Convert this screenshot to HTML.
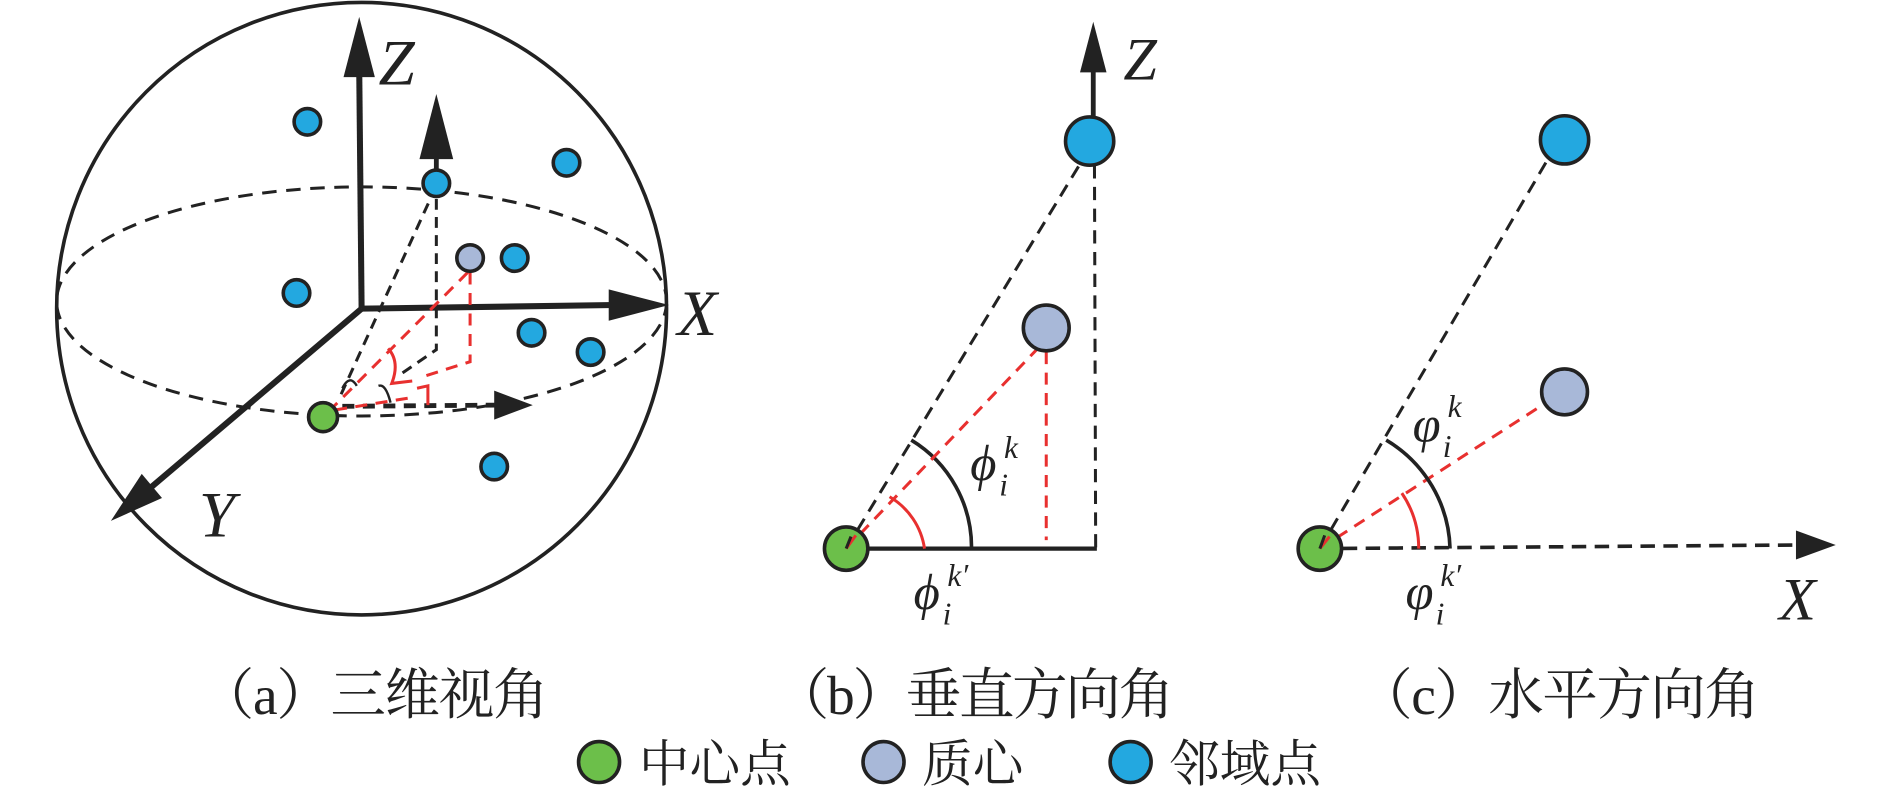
<!DOCTYPE html>
<html><head><meta charset="utf-8"><style>
html,body{margin:0;padding:0;background:#fff;width:1890px;height:803px;overflow:hidden}
svg{display:block}
.it{font-family:"Liberation Serif",serif;font-style:italic;fill:#222}
.cj{font-family:"Liberation Serif","Noto Serif CJK SC",serif;fill:#222}
</style></head><body>
<svg width="1890" height="803" viewBox="0 0 1568 666" preserveAspectRatio="none" xmlns="http://www.w3.org/2000/svg">
<g fill="none" stroke="#222">
<!-- panel a -->
<ellipse cx="300" cy="256" rx="253" ry="254" stroke-width="3"/>
<ellipse cx="300" cy="250" rx="253" ry="95" stroke-width="2.5" stroke-dasharray="12,8"/>
<line x1="300" y1="256" x2="298" y2="55" stroke-width="5"/>
<line x1="300" y1="256" x2="510" y2="253" stroke-width="5"/>
<line x1="300" y1="256" x2="122" y2="407" stroke-width="5"/>
<line x1="362" y1="150" x2="362" y2="125" stroke-width="4"/>
<line x1="283" y1="327" x2="357" y2="165" stroke-width="2.5" stroke-dasharray="9,6"/>
<polyline points="362,165 362,290 330,312" stroke-width="2.5" stroke-dasharray="9,6"/>
<line x1="284" y1="337" x2="412" y2="336" stroke-width="4" stroke-dasharray="10,7"/>
<path d="M284,322 Q290,310 296,320" stroke-width="2"/>
<path d="M314,320 Q320,318 324,334" stroke-width="2"/>
<g stroke="#e8302f" stroke-width="2.5" stroke-dasharray="10,7">
<line x1="388" y1="226" x2="272" y2="342"/>
<polyline points="390,226 390,300 352,312"/>
<line x1="278" y1="340" x2="340" y2="330"/>
</g>
<path d="M322,289 Q332,300 325,318 L342,316" stroke="#e8302f" stroke-width="2.5"/>
<path d="M346,322 L355,320 L355,336" stroke="#e8302f" stroke-width="2.5"/>
<!-- panel b -->
<line x1="907" y1="100" x2="907" y2="55" stroke-width="4"/>
<line x1="702" y1="455" x2="896" y2="136" stroke-width="2.5" stroke-dasharray="11,7"/>
<line x1="908" y1="137" x2="909" y2="455" stroke-width="2.5" stroke-dasharray="11,7"/>
<line x1="702" y1="455" x2="910" y2="455" stroke-width="3.5"/>
<path d="M756,365 A104,104 0 0 1 806,455" stroke-width="3"/>
<g stroke="#e8302f" stroke-width="2.5" stroke-dasharray="10,7">
<line x1="702" y1="455" x2="860" y2="290"/>
<line x1="868" y1="292" x2="868" y2="448"/>
</g>
<path d="M738,412 A60,60 0 0 1 767,455" stroke="#e8302f" stroke-width="2.5"/>
<!-- panel c -->
<line x1="1095" y1="455" x2="1283" y2="134" stroke-width="2.5" stroke-dasharray="11,7"/>
<line x1="1095" y1="455" x2="1492" y2="452" stroke-width="3" stroke-dasharray="12,7"/>
<line x1="1095" y1="455" x2="1278" y2="337" stroke="#e8302f" stroke-width="2.5" stroke-dasharray="10,7"/>
<path d="M1150,365 A108,108 0 0 1 1203,455" stroke-width="3"/>
<path d="M1163,409 A82,82 0 0 1 1177,455" stroke="#e8302f" stroke-width="2.5"/>
</g>
<!-- arrowheads -->
<g fill="#222">
<polygon points="298,14 285,64 311,64"/>
<polygon points="555,253 505,240 505,266"/>
<polygon points="92,432 117.6,393 134.4,413"/>
<polygon points="362,78 348,132 376,132"/>
<polygon points="442,336 410,324 410,348"/>
<polygon points="907,18 896,60 918,60"/>
<polygon points="1523,452 1490,440 1490,464"/>
</g>
<!-- dots -->
<g stroke="#222" stroke-width="3">
<g fill="#23a8e0">
<circle cx="255" cy="101" r="11"/><circle cx="470" cy="135" r="11"/><circle cx="362" cy="152" r="11"/>
<circle cx="246" cy="243" r="11"/><circle cx="427" cy="214" r="11"/><circle cx="441" cy="276" r="11"/>
<circle cx="490" cy="292" r="11"/><circle cx="410" cy="387" r="11"/>
<circle cx="904" cy="117" r="20"/><circle cx="1298" cy="116" r="20"/>
<circle cx="938" cy="632" r="17"/>
</g>
<g fill="#a8b8d8">
<circle cx="390" cy="214" r="11"/><circle cx="868" cy="272" r="19"/><circle cx="1298" cy="325" r="19"/>
<circle cx="733" cy="632" r="17"/>
</g>
<g fill="#6cbf4a">
<circle cx="268" cy="346" r="12"/><circle cx="702" cy="455" r="18"/><circle cx="1095" cy="455" r="18"/>
<circle cx="497" cy="632" r="17"/>
</g>
</g>
<g stroke="#e8302f" stroke-width="2.5"><line x1="702" y1="455" x2="710" y2="444"/><line x1="1095" y1="455" x2="1103" y2="445"/></g>
<g stroke="#222" stroke-width="2.5"><line x1="702" y1="455" x2="706" y2="445"/><line x1="1095" y1="455" x2="1099" y2="444"/></g>
<!-- labels -->
<text class="it" x="314" y="70" font-size="54">Z</text>
<text class="it" x="562" y="278" font-size="54">X</text>
<text class="it" x="165" y="445" font-size="54">Y</text>
<text class="it" x="932" y="66" font-size="50">Z</text>
<text class="it" x="1476" y="514" font-size="50">X</text>
<text class="it" x="805" y="398" font-size="42">ϕ</text><text class="it" x="829" y="411" font-size="26">i</text><text class="it" x="833" y="380" font-size="26">k</text>
<text class="it" x="758" y="505" font-size="42">ϕ</text><text class="it" x="782" y="518" font-size="26">i</text><text class="it" x="786" y="486" font-size="26">k′</text>
<text class="it" x="1172" y="366" font-size="42">φ</text><text class="it" x="1197" y="379" font-size="26">i</text><text class="it" x="1201" y="346" font-size="26">k</text>
<text class="it" x="1166" y="505" font-size="42">φ</text><text class="it" x="1191" y="518" font-size="26">i</text><text class="it" x="1195" y="486" font-size="26">k′</text>
<text class="cj" x="165" y="592" font-size="46" textLength="290">（a）三维视角</text>
<text class="cj" x="642" y="592" font-size="46" textLength="332">（b）垂直方向角</text>
<text class="cj" x="1126" y="592" font-size="46" textLength="334">（c）水平方向角</text>
<text class="cj" x="530" y="648" font-size="42">中心点</text>
<text class="cj" x="765" y="648" font-size="42">质心</text>
<text class="cj" x="970" y="648" font-size="42">邻域点</text>
</svg>
</body></html>
